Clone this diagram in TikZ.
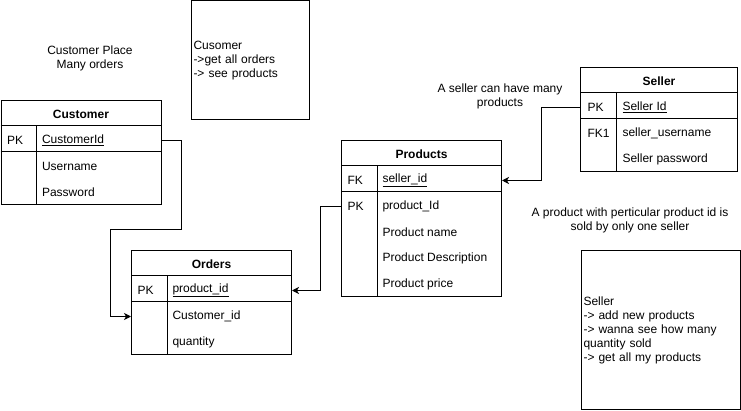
\documentclass[tikz,border=0pt]{standalone}
\usepackage{fontspec}
\setmainfont{Liberation Sans}
\usetikzlibrary{calc,positioning,arrows.meta}

\begin{document}
\begin{tikzpicture}[x=1pt,y=-1pt,line width=1pt,
  every node/.style={font=\fontsize{12}{14}\selectfont},
  tbl/.style={draw,rectangle,anchor=north west,inner sep=0pt},
  hdr/.style={font=\fontsize{12}{14}\selectfont\bfseries,yshift=-1.5pt},
  key/.style={anchor=west,inner sep=0pt,yshift=-1.5pt},
  field/.style={anchor=west,inner sep=0pt,yshift=-1.5pt},
  note/.style={draw,rectangle,anchor=north west,align=left,inner sep=2pt},
  remark/.style={align=center,yshift=-1pt},
  link/.style={-{Stealth[length=7pt,width=7pt,inset=2pt]}}]

  \useasboundingbox (0,0) rectangle (741,411);

  % Customer table
  \node[tbl,minimum width=160pt,minimum height=104pt] at(0.5,100) (cust) {};
  \node[hdr] at($(cust.north)+(0,13)$) (cust_h) {Customer};
  \draw ($(cust.north west)+(0,26)$) -- ($(cust.north east)+(0,26)$);
  \draw ($(cust.north west)+(0,52)$) -- ($(cust.north east)+(0,52)$);
  \draw ($(cust.north west)+(36,26)$) -- ($(cust.south west)+(36,0)$);
  \node[key] at($(cust.north west)+(6,39)$) (cust_pk) {PK};
  \node[field] at($(cust.north west)+(41,39)$) (cust_id) {\underline{CustomerId}};
  \foreach \f [count=\i] in {Username,Password}
    \node[field] at($(cust.north west)+(41,39+\i*26)$) (cust_f\i) {\f};

  % Orders table
  \node[tbl,minimum width=160pt,minimum height=104pt] at(131,250) (ord) {};
  \node[hdr] at($(ord.north)+(0,13)$) (ord_h) {Orders};
  \draw ($(ord.north west)+(0,26)$) -- ($(ord.north east)+(0,26)$);
  \draw ($(ord.north west)+(0,52)$) -- ($(ord.north east)+(0,52)$);
  \draw ($(ord.north west)+(36,26)$) -- ($(ord.south west)+(36,0)$);
  \node[key] at($(ord.north west)+(6,39)$) (ord_pk) {PK};
  \node[field] at($(ord.north west)+(41,39)$) (ord_id) {\underline{product\_id}};
  \foreach \f [count=\i] in {Customer\_id,quantity}
    \node[field] at($(ord.north west)+(41,39+\i*26)$) (ord_f\i) {\f};

  % Products table
  \node[tbl,minimum width=160pt,minimum height=156pt] at(341,140) (prod) {};
  \node[hdr] at($(prod.north)+(0,13)$) (prod_h) {Products};
  \draw ($(prod.north west)+(0,26)$) -- ($(prod.north east)+(0,26)$);
  \draw ($(prod.north west)+(0,52)$) -- ($(prod.north east)+(0,52)$);
  \draw ($(prod.north west)+(36,26)$) -- ($(prod.south west)+(36,0)$);
  \node[key] at($(prod.north west)+(6,39)$) (prod_fk) {FK};
  \node[field] at($(prod.north west)+(41,39)$) (prod_id) {\underline{seller\_id}};
  \node[key] at($(prod.north west)+(6,65)$) (prod_pk) {PK};
  \foreach \f [count=\i] in {product\_Id,Product name,Product Description,Product price}
    \node[field] at($(prod.north west)+(41,39+\i*26)$) (prod_f\i) {\f};

  % Seller table
  \node[tbl,minimum width=157pt,minimum height=104pt] at(580,67) (sell) {};
  \node[hdr] at($(sell.north)+(0,13)$) (sell_h) {Seller};
  \draw ($(sell.north west)+(0,26)$) -- ($(sell.north east)+(0,26)$);
  \draw ($(sell.north west)+(0,52)$) -- ($(sell.north east)+(0,52)$);
  \draw ($(sell.north west)+(36,26)$) -- ($(sell.south west)+(36,0)$);
  \node[key] at($(sell.north west)+(7,39)$) (sell_pk) {PK};
  \node[field] at($(sell.north west)+(42,39)$) (sell_id) {\underline{Seller Id}};
  \node[key] at($(sell.north west)+(7,65)$) (sell_fk) {FK1};
  \foreach \f [count=\i] in {seller\_username,Seller password}
    \node[field] at($(sell.north west)+(42,39+\i*26)$) (sell_f\i) {\f};

  % relations
  \draw[link] (cust.east |- cust_pk) -- ++(20,0) -- ++(0,89) -| ($(ord.west |- ord_f1)+(-21,0)$) -- (ord.west |- ord_f1);
  \draw[link] (prod.west |- prod_pk) -- ++(-21,0) |- (ord.east |- ord_pk);
  \draw[link] (sell.west |- sell_pk) -- ++(-39,0) |- (prod.east |- prod_fk);

  % notes
  \node[note,minimum width=118pt,minimum height=119pt,text width=114pt] at(191,0.5) (cust_note) {Cusomer\\->get all orders\\-> see products};
  \node[note,minimum width=159pt,minimum height=159pt,text width=155pt] at(581,250) (sell_note) {Seller\\-> add new products\\-> wanna see how many\\quantity sold\\-> get all my products};

  \node[remark] at(90,57) (cust_rm) {Customer Place\\Many orders};
  \node[remark] at(500,95) (sell_rm) {A seller can have many\\products};
  \node[remark] at(630,219) (prod_rm) {A product with perticular product id is\\sold by only one seller};
\end{tikzpicture}
\end{document}
